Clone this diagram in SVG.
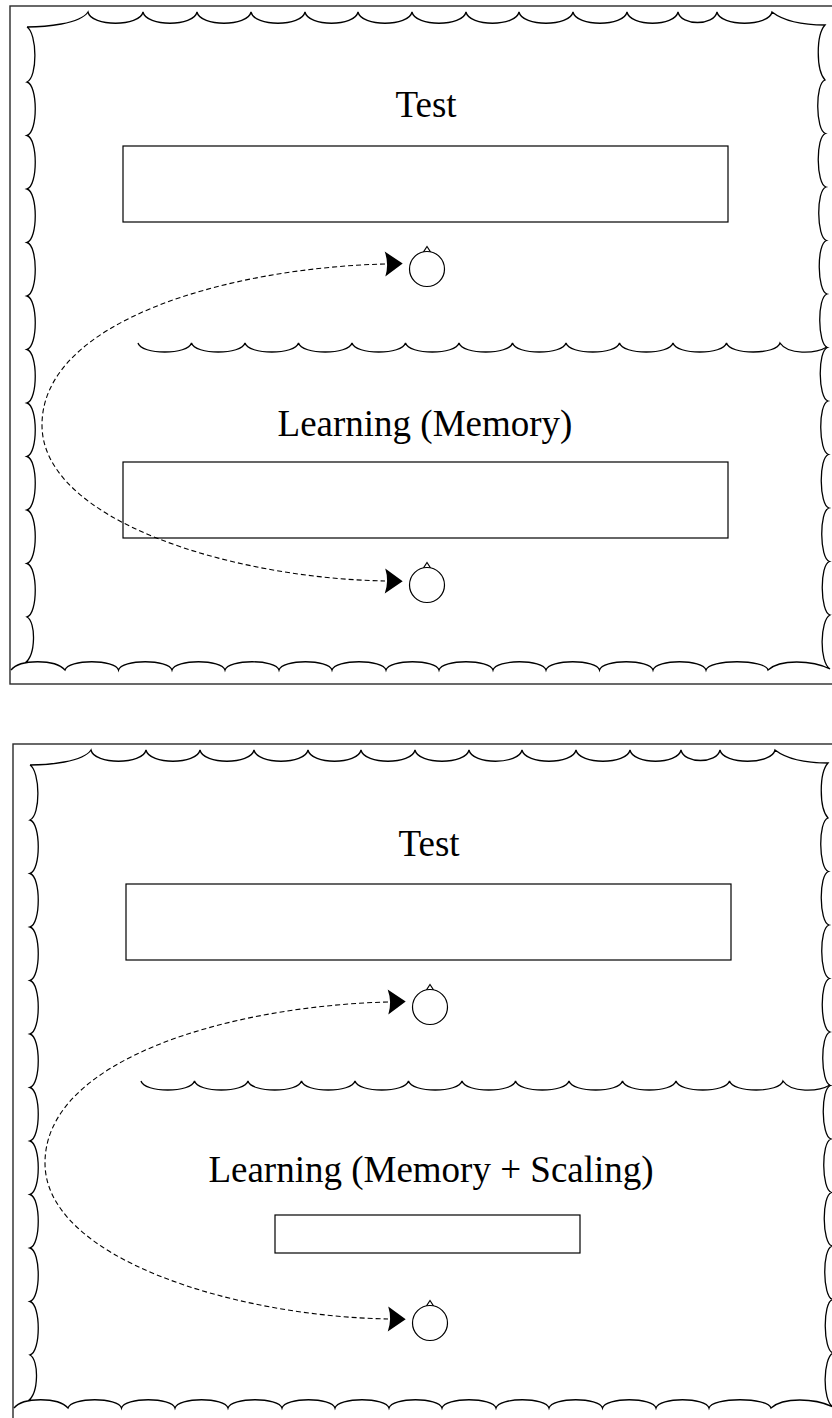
<svg xmlns="http://www.w3.org/2000/svg" xmlns:xlink="http://www.w3.org/1999/xlink" width="832" height="1418" viewBox="0 0 832 1418">
  <style>
    .frame { fill: none; stroke: #2a2a2a; stroke-width: 1.4; }
    .cloud { fill: none; stroke: #000; stroke-width: 1.3; stroke-linejoin: miter; }
    .box { fill: #fff; stroke: #000; stroke-width: 1.2; }
    .head { fill: #fff; stroke: #000; stroke-width: 1.2; }
    .link { fill: none; stroke: #000; stroke-width: 1.1; stroke-dasharray: 5 3; }
    .label { font-family: "Liberation Serif", "Times New Roman", serif; font-size: 37px; fill: #000; text-anchor: middle; }
  </style>
  <defs>
    <!-- filled arrowhead used at both ends of the recall link -->
    <marker id="arrow" markerUnits="userSpaceOnUse" markerWidth="18" markerHeight="25" viewBox="0 0 17 24" refX="0" refY="12" orient="auto-start-reverse" overflow="visible">
      <path d="M0,0 L17,12 L0,24 Q4,12 0,0 Z" fill="#000"/>
    </marker>
    <!-- listener head seen from above: circle with a small nose -->
    <g id="head">
      <circle class="head" cx="0" cy="0" r="17.5"/>
      <path d="M-3.5,-17.1 L0,-22.5 L3.5,-17.1" fill="none" stroke="#000" stroke-width="1.1"/>
    </g>
    <!-- scalloped outline of a room -->
    <path id="cloud-frame" class="cloud" d="M27,27 C45,27 80,24 88,12
      C91,27 140,27 143,12 C146,27 194,27 197,12 C200,27 248,27 251,12 C254,27 302,27 305,12
      C308,27 355,27 358,12 C361,27 409,27 412,12 C415,27 463,27 466,12 C469,27 516,27 519,12
      C522,27 570,27 573,12 C576,27 624,27 627,12 C630,27 675,27 678,12 C681,26 714,26 717,12
      C720,27 769,27 772,12 C785,22 805,25 825,25
      C816,35 816,70 825,80 C815,83 815.5,130.5 825.5,133.5 C815.5,136.5 816,184 826,187
      C816,190 816.5,237.5 826.5,240.5 C816.5,243.5 817,291 827,294 C817,297 817.5,344.5 827.5,347.5
      C817.5,350.5 818,398 828,401 C818,404 818.5,451.5 828.5,454.5 C818.5,457.5 819,505 829,508
      C819,511 819.5,558.5 829.5,561.5 C819.5,564.5 820,612 830,615 C820,620 819,662 830,669
      C812,660 780,659 768,670 C765,659 709,659 706,670 C703,659 656,659 653,670
      C650,659 602.5,659 599.5,670 C596.5,659 549,659 546,670 C543,659 496,659 493,670
      C490,659 442,659 439,670 C436,659 389,659 386,670 C383,659 335,659 332,670
      C329,659 282,659 279,670 C276,659 228,659 225,670 C222,659 175,659 172,670
      C169,659 121.5,659 118.5,670 C115.5,659 68,659 65,670 C55,659 20,659 11,670
      M25,663 C36,655 36,622 27,617 C38,614 38,566.5 27,563.5 C38,560.5 38,513 27,510
      C38,507 38,459.5 27,456.5 C38,453.5 38,406 27,403 C38,400 38,352.5 27,349.5
      C38,346.5 38,299 27,296 C38,293 38,245.5 27,242.5 C38,239.5 38,192 27,189
      C38,186 38,138.5 27,135.5 C38,132.5 38,85 27,82 C38,77 37,33 27,27"/>
    <!-- scalloped partition between test and learning areas -->
    <path id="cloud-divider" class="cloud" d="M138,343
      C141,355 188.5,355 191.5,343 C194.5,355 242,355 245,343 C248,355 295.5,355 298.5,343
      C301.5,355 349,355 352,343 C355,355 402.5,355 405.5,343 C408.5,355 456,355 459,343
      C462,355 509.5,355 512.5,343 C515.5,355 563,355 566,343 C569,355 616.5,355 619.5,343
      C622.5,355 670,355 673,343 C676,355 723.5,355 726.5,343 C729.5,355 777,355 780,343
      C788,355 815,354 827,347"/>
  </defs>

  <!-- upper panel: memory only -->
  <g id="panel-memory">
    <rect class="frame" x="10" y="6" width="840" height="678"/>
    <use xlink:href="#cloud-frame"/>
    <use xlink:href="#cloud-divider"/>
  </g>
  <g id="memory-test">
    <text class="label" x="426" y="117">Test</text>
    <rect class="box" x="123" y="146" width="605" height="76"/>
  </g>
  <g id="memory-test-listener">
    <use xlink:href="#head" x="427" y="269"/>
  </g>
  <g id="memory-learning">
    <text class="label" x="425" y="436">Learning (Memory)</text>
    <rect class="box" x="123" y="462" width="605" height="76"/>
  </g>
  <g id="memory-learning-listener">
    <use xlink:href="#head" x="427" y="585"/>
  </g>

  <!-- lower panel: memory plus scaling -->
  <g id="panel-scaling" transform="translate(3,738)">
    <rect class="frame" x="10" y="6" width="840" height="678"/>
    <use xlink:href="#cloud-frame"/>
    <use xlink:href="#cloud-divider"/>
  </g>
  <g id="scaling-test">
    <text class="label" x="429" y="856">Test</text>
    <rect class="box" x="126" y="884" width="605" height="76"/>
  </g>
  <g id="scaling-test-listener">
    <use xlink:href="#head" x="430" y="1007"/>
  </g>
  <g id="scaling-learning">
    <text class="label" x="431" y="1182">Learning (Memory + Scaling)</text>
    <rect class="box" x="275" y="1215" width="305" height="38"/>
  </g>
  <g id="scaling-learning-listener">
    <use xlink:href="#head" x="430" y="1323"/>
  </g>

  <!-- recall links between learning and test positions -->
  <g id="connectors">
    <path class="link" marker-start="url(#arrow)" marker-end="url(#arrow)"
          d="M385,264 C230,268 42,320 42,425 C42,520 230,578 385,581"/>
    <path class="link" marker-start="url(#arrow)" marker-end="url(#arrow)"
          d="M388,1002 C233,1006 45,1058 45,1163 C45,1258 233,1316 388,1319"/>
  </g>
</svg>
